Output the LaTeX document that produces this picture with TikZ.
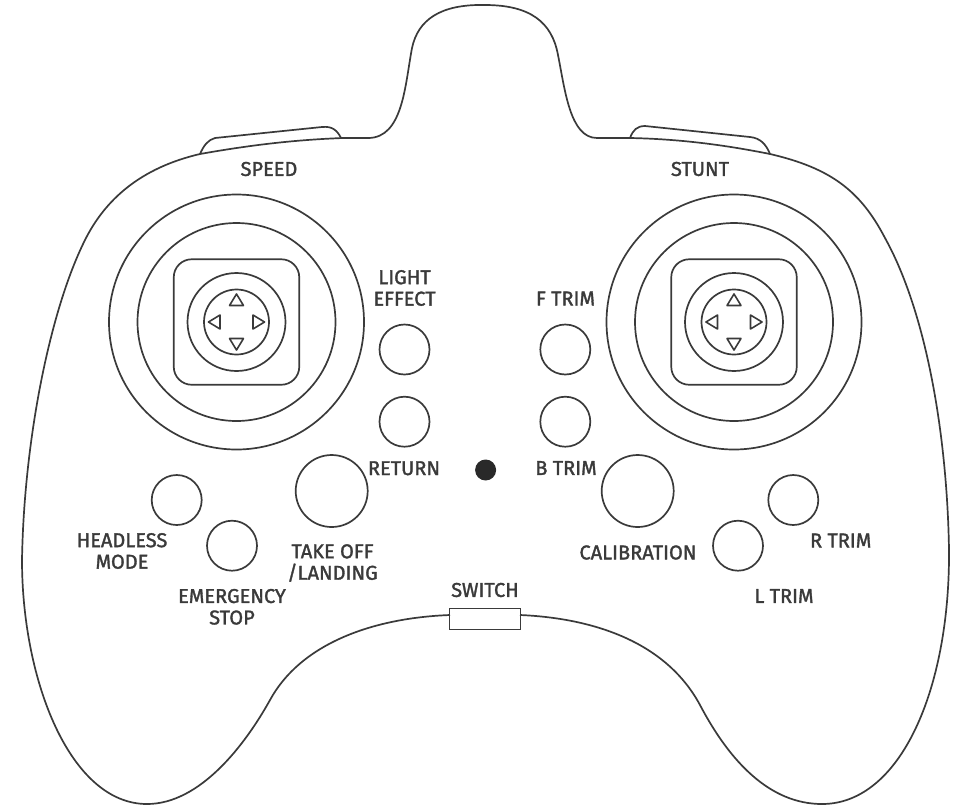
\documentclass[tikz,border=0pt]{standalone}
\usepackage{fontspec}
\setmainfont[FakeBold=1.6]{Fira Sans}
\definecolor{ink}{HTML}{3A3A3A}
\tikzset{
  btn/.style={circle,draw=ink,line width=1.7pt,inner sep=0pt,minimum size=#1},
  keypad/.style={rectangle,draw=ink,line width=1.7pt,inner sep=0pt,minimum size=125.5pt,rounded corners=18pt},
  arrowmark/.style={draw=ink,line width=1.6pt,line join=round},
  shell/.style={draw=ink,line width=1.7pt},
  lbl/.style={text=ink,font=\fontsize{20}{21.5}\selectfont,align=center,inner sep=0pt}
}
\begin{document}
\begin{tikzpicture}[x=1pt,y=-1pt]
  \useasboundingbox (0,0) rectangle (955,807);
  % Body outline
  \draw[shell] (450,615) .. controls (370,618) and (300,645) .. (270,700)
    .. controls (245,745) and (200,804) .. (147,804)
    .. controls (70,804) and (22,680) .. (22,560)
    .. controls (24,440) and (50,310) .. (85,240)
    .. controls (105,200) and (140,168) .. (200,154)
    .. controls (245,146) and (290,140) .. (343,138)
    -- (368,138)
    .. controls (403,138) and (405,85) .. (412,48)
    .. controls (418,20) and (440,4) .. (485,5)
    .. controls (530,5) and (552,22) .. (558,55)
    .. controls (565,90) and (570,138) .. (597,138)
    -- (630,138)
    .. controls (680,139) and (725,145) .. (770,154)
    .. controls (830,168) and (860,190) .. (885,238)
    .. controls (925,310) and (947,430) .. (949,550)
    .. controls (950,690) and (900,804) .. (822,804)
    .. controls (770,804) and (730,762) .. (700,705)
    .. controls (665,640) and (590,618) .. (520,615);
  % Shoulder keys
  \draw[shell] (200,154) .. controls (204,145) and (208,140) .. (215,138)
    -- (322,127) .. controls (332,126) and (337,130) .. (341,138);
  \draw[shell] (630,138) .. controls (633,130) and (637,126) .. (645,126)
    -- (750,137) .. controls (760,138) and (766,144) .. (770,154);
  % Sticks
  \foreach \nm/\cx in {left/236.5,right/734} {
    \node[btn=255pt] (\nm outer) at (\cx,322) {};
    \node[btn=198pt] (\nm ring) at (\cx,322) {};
    \node[keypad] (\nm pad) at (\cx,322) {};
    \node[btn=98pt] (\nm disc) at (\cx,322) {};
    \node[btn=65pt] (\nm hub) at (\cx,322) {};
    \foreach \a in {0,90,180,270}
      \draw[arrowmark,shift={(\cx,322)},rotate=\a] (-7,-16.5) -- (0,-28) -- (7,-16.5) -- cycle;
  }
  % Buttons
  \node[btn=50pt] (lightbtn) at (404.5,349.5) {};
  \node[btn=50pt] (returnbtn) at (404.5,421.7) {};
  \node[btn=50pt] (ftrimbtn) at (565.3,349.5) {};
  \node[btn=50pt] (btrimbtn) at (565.3,421.7) {};
  \node[btn=72pt] (takeoffbtn) at (331.7,491) {};
  \node[btn=72pt] (calibbtn) at (637.7,491) {};
  \node[btn=50pt] (headlessbtn) at (176.7,500) {};
  \node[btn=50pt] (stopbtn) at (232,545.7) {};
  \node[btn=50pt] (rtrimbtn) at (793.3,500) {};
  \node[btn=50pt] (ltrimbtn) at (738,545.7) {};
  \node[circle,fill=ink!70!black,inner sep=0pt,minimum size=21pt] (led) at (485.6,470) {};
  \node[rectangle,draw=ink,line width=1.4pt,inner sep=0pt,minimum width=70.5pt,minimum height=21pt] (switchbox) at (485,618.8) {};
  % Labels
  \node[lbl] (speedlbl) at (269,169) {SPEED};
  \node[lbl] (stuntlbl) at (700,169) {STUNT};
  \node[lbl] (lightlbl) at (404.5,288) {LIGHT\\EFFECT};
  \node[lbl] (ftrimlbl) at (565.5,298.5) {F TRIM};
  \node[lbl] (returnlbl) at (404,468.3) {RETURN};
  \node[lbl] (btrimlbl) at (566,468) {B TRIM};
  \node[lbl] (headlesslbl) at (122,551) {HEADLESS\\MODE};
  \node[lbl] (stoplbl) at (232,606.8) {EMERGENCY\\STOP};
  \node[lbl] (takeofflbl) at (332.5,563) {TAKE OFF\\/LANDING};
  \node[lbl] (caliblbl) at (638,552.5) {CALIBRATION};
  \node[lbl] (rtrimlbl) at (840.7,540.5) {R TRIM};
  \node[lbl] (ltrimlbl) at (784,596) {L TRIM};
  \node[lbl] (switchlbl) at (485,590) {SWITCH};
\end{tikzpicture}
\end{document}
